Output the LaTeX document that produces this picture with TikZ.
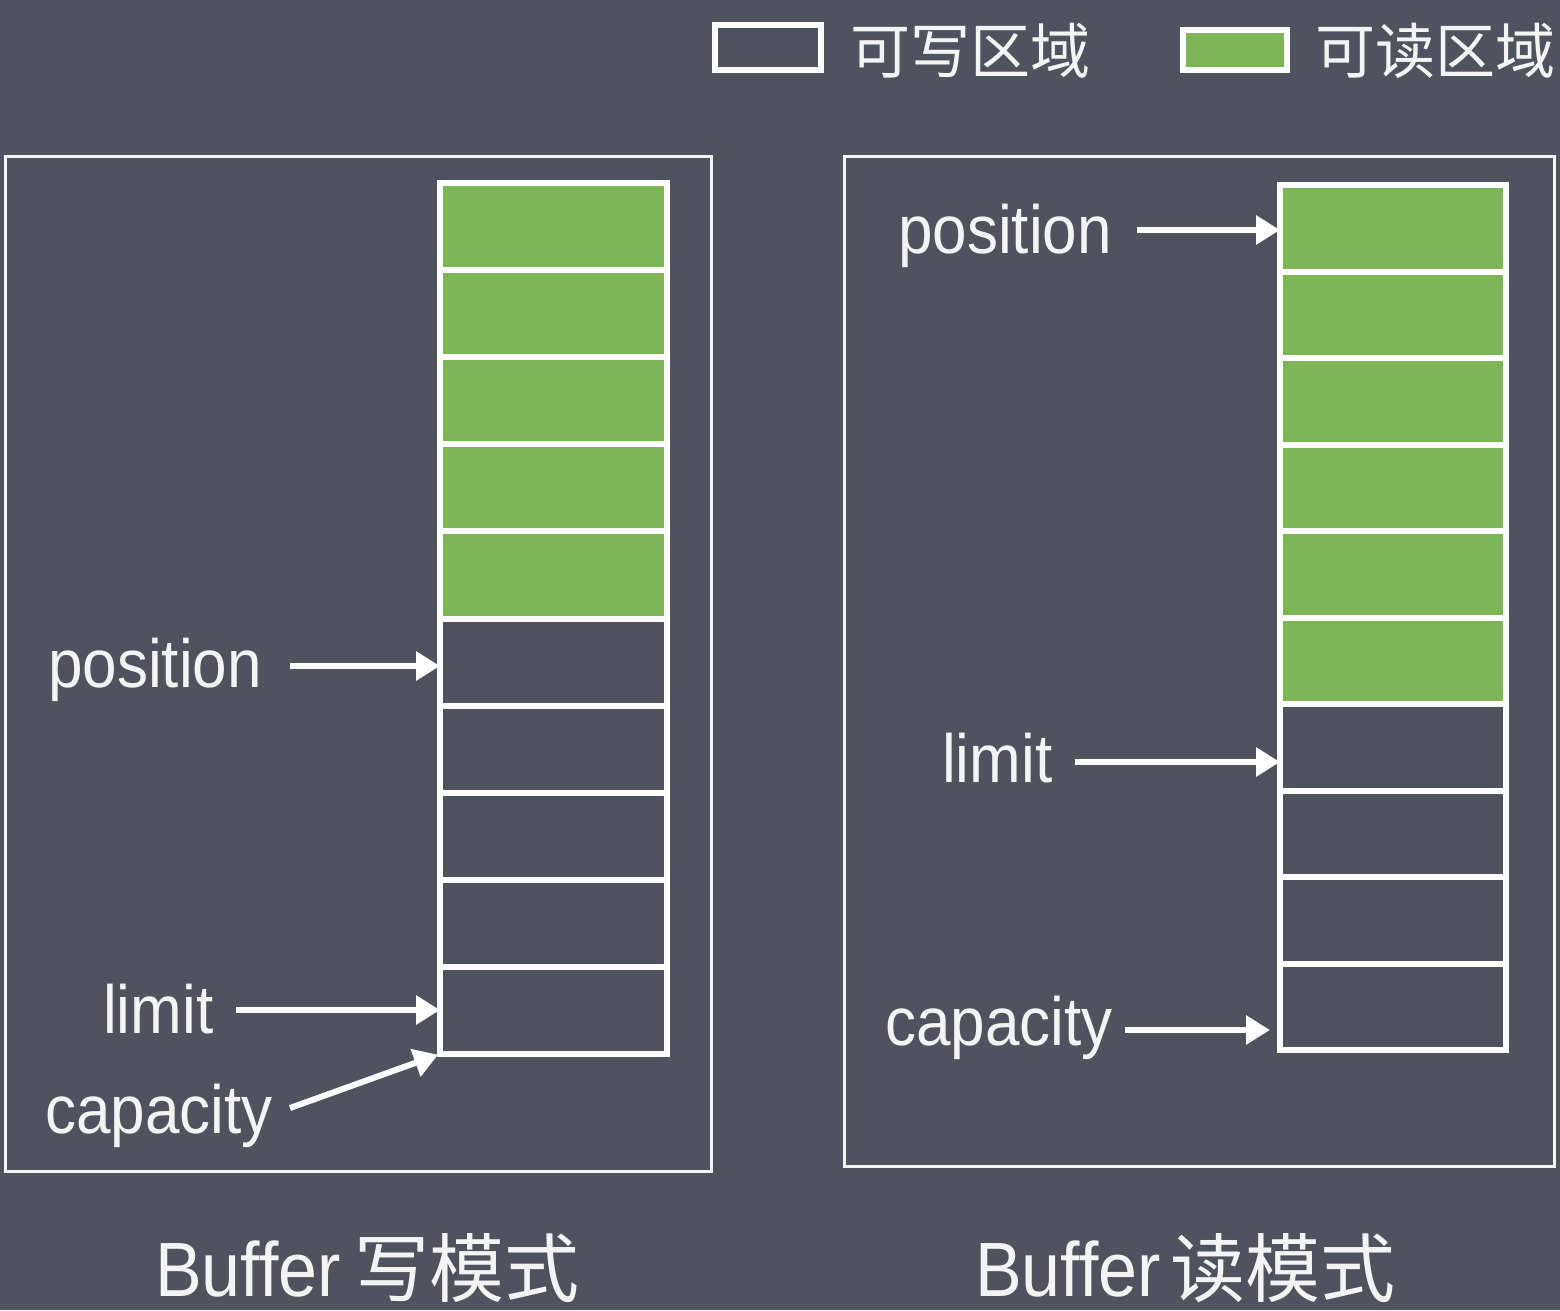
\documentclass[tikz,border=0pt]{standalone}
\usepackage{fontspec}
\usepackage{graphicx}
\setmainfont{Liberation Sans}
\newfontfamily\cjk{Noto Sans CJK SC}
\usetikzlibrary{arrows.meta}
\definecolor{bg}{HTML}{50535E}
\definecolor{gr}{HTML}{7DB656}
\definecolor{fg}{HTML}{F4F4F4}
\newcommand{\lt}[1]{\scalebox{1}[1.1]{#1}}
\begin{document}
\begin{tikzpicture}[x=1pt,y=-1pt,
  lcell/.style={draw=white,line width=6pt,minimum width=227pt,minimum height=87.1pt,inner sep=0pt,outer sep=0pt},
  rcell/.style={draw=white,line width=6pt,minimum width=226pt,minimum height=86.5pt,inner sep=0pt,outer sep=0pt},
  frame/.style={draw=fg,line width=3pt},
  lbl/.style={text=fg,inner sep=0pt,anchor=base west,font=\fontsize{62}{62}\selectfont},
  ttl/.style={text=fg,inner sep=0pt,anchor=base west,font=\fontsize{70}{70}\selectfont},
  lgd/.style={text=fg,inner sep=0pt,anchor=west,font=\cjk\fontsize{60}{60}\selectfont},
  arr/.style={draw=white,line width=6pt,-{Triangle[length=24pt,width=28pt]}}
]
\useasboundingbox (0,0) rectangle (1560,1310);
\fill[bg] (0,0) rectangle (1560,1310);

% legend
\node[draw=white,line width=6pt,minimum width=106pt,minimum height=45pt,inner sep=0pt,outer sep=0pt,fill=bg] (wbox) at (768,47.5) {};
\node[lgd] (wtxt) at (850,51) {可写区域};
\node[draw=white,line width=6pt,minimum width=104pt,minimum height=40pt,inner sep=0pt,outer sep=0pt,fill=gr] (rbox) at (1235,50) {};
\node[lgd] (rtxt) at (1315,51) {可读区域};

% frames
\draw[frame] (5.5,156.5) rectangle (711.5,1171.5);
\draw[frame] (844.5,156.5) rectangle (1554.5,1166.5);

% left buffer (write mode)
\foreach \i in {1,...,5}
  \node[lcell,fill=gr] (L\i) at (553.5,{183+87.1*(\i-0.5)}) {};
\foreach \i in {6,...,10}
  \node[lcell,fill=bg] (L\i) at (553.5,{183+87.1*(\i-0.5)}) {};

% right buffer (read mode)
\foreach \i in {1,...,6}
  \node[rcell,fill=gr] (R\i) at (1393,{185+86.5*(\i-0.5)}) {};
\foreach \i in {7,...,10}
  \node[rcell,fill=bg] (R\i) at (1393,{185+86.5*(\i-0.5)}) {};

% left labels
\node[lbl] (posL) at (48,687) {\lt{position}};
\node[lbl] (limL) at (103,1033) {\lt{limit}};
\node[lbl] (capL) at (45,1133) {\lt{capacity}};
\coordinate (pLs) at (290,666);
\coordinate (lLs) at (236,1010);
\coordinate (cLs) at (290,1108);
\draw[arr] (pLs) -- (pLs -| L6.west);
\draw[arr] (lLs) -- (lLs -| L10.west);
\draw[arr,shorten >=2pt] (cLs) -- (L10.south west);

% right labels
\node[lbl] (posR) at (898,253) {\lt{position}};
\node[lbl] (limR) at (942,782) {\lt{limit}};
\node[lbl] (capR) at (885,1045) {\lt{capacity}};
\coordinate (pRs) at (1137,230);
\coordinate (lRs) at (1075,762);
\coordinate (cRs) at (1125,1030);
\draw[arr] (pRs) -- (pRs -| R1.west);
\draw[arr] (lRs) -- (lRs -| R7.west);
\draw[arr,shorten >=10pt] (cRs) -- (cRs -| R10.west);

% titles
\node[ttl] (tL) at (155,1296) {\lt{Buffer}\hspace{14pt}{\cjk\fontsize{75}{75}\selectfont 写模式}};
\node[ttl] (tR) at (975,1296) {\lt{Buffer}\hspace{10pt}{\cjk\fontsize{75}{75}\selectfont 读模式}};
\end{tikzpicture}
\end{document}
